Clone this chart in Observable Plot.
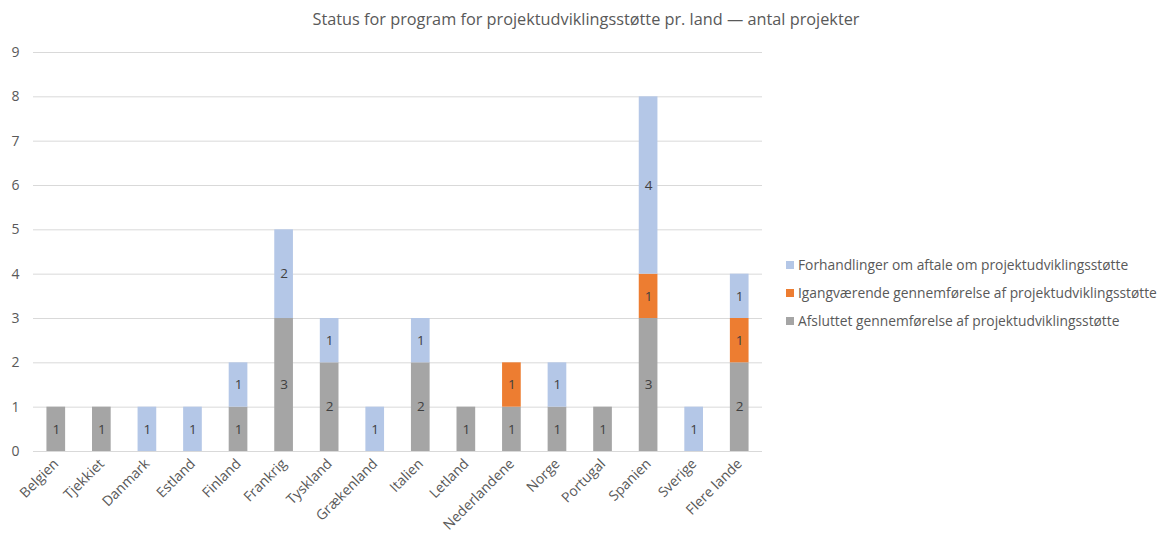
<!DOCTYPE html>
<html>
<head>
<meta charset="utf-8">
<script src="https://cdn.jsdelivr.net/npm/d3@7"></script>
<script src="https://cdn.jsdelivr.net/npm/@observablehq/plot@0.6"></script>
<style>
  html, body { margin: 0; padding: 0; background: #fff; }
  #wrap { position: relative; width: 1158px; height: 533px; font-family: "Open Sans", sans-serif; }
  #title { position: absolute; left: 0; width: 1172px; top: 8px; text-align: center; font-size: 16.3px; color: #595959; }
  #legend { position: absolute; left: 786px; top: 255px; font-size: 13.8px; color: #595959; }
  .item { height: 28px; display: flex; align-items: flex-start; white-space: nowrap; }
  .sw { width: 8px; height: 8px; margin-right: 4px; margin-top: 6px; }
</style>
</head>
<body>
<div id="wrap">
  <div id="chart"></div>
  <div id="title">Status for program for projektudviklingsstøtte pr. land — antal projekter</div>
  <div id="legend"></div>
</div>
<script>
const countries = ["Belgien","Tjekkiet","Danmark","Estland","Finland","Frankrig","Tyskland","Grækenland","Italien","Letland","Nederlandene","Norge","Portugal","Spanien","Sverige","Flere lande"];
const seriesNames = ["Afsluttet gennemførelse af projektudviklingsstøtte","Igangværende gennemførelse af projektudviklingsstøtte","Forhandlinger om aftale om projektudviklingsstøtte"];
const afsluttet     = [1,1,0,0,1,3,2,0,2,1,1,1,1,3,0,2];
const igangvaerende = [0,0,0,0,0,0,0,0,0,0,1,0,0,1,0,1];
const forhandlinger = [0,0,1,1,1,2,1,1,1,0,0,1,0,4,1,1];
const seriesColors = ["#A5A5A5","#ED7D31","#B4C7E7"];
const yTicks = [0,1,2,3,4,5,6,7,8,9];

const seriesValues = [afsluttet, igangvaerende, forhandlinger];
const rows = [];
countries.forEach((c, i) => {
  seriesNames.forEach((s, j) => rows.push({land: c, status: s, value: seriesValues[j][i]}));
});
const labelRows = rows.filter(d => d.value > 0);

const chart = Plot.plot({
  width: 1158,
  height: 533,
  marginLeft: 33,
  marginRight: 396,
  marginTop: 52,
  marginBottom: 82,
  style: {fontFamily: "Open Sans, sans-serif", fontSize: "14px", color: "#595959", background: "#fff"},
  x: {domain: countries, paddingInner: 0.59, paddingOuter: 0.295, round: false, label: null, tickRotate: -45, tickSize: 0, tickPadding: 10},
  y: {domain: [0, 9], ticks: yTicks, label: null, tickSize: 0, tickPadding: 14, tickFormat: d3.format("d")},
  color: {domain: seriesNames, range: seriesColors},
  marks: [
    Plot.gridY(yTicks, {stroke: "#D9D9D9", strokeOpacity: 1, strokeWidth: 1}),
    Plot.barY(rows, Plot.stackY({x: "land", y: "value", fill: "status", order: seriesNames})),
    Plot.text(labelRows, Plot.stackY({x: "land", y: "value", z: "status", order: seriesNames, text: d => String(d.value), fill: "#404040", fontSize: 13.5}))
  ]
});
document.getElementById("chart").appendChild(chart);

const legend = document.getElementById("legend");
[2, 1, 0].forEach(j => {
  const it = document.createElement("div");
  it.className = "item";
  const sw = document.createElement("span");
  sw.className = "sw";
  sw.style.background = seriesColors[j];
  const tx = document.createElement("span");
  tx.textContent = seriesNames[j];
  it.appendChild(sw); it.appendChild(tx);
  legend.appendChild(it);
});
</script>
</body>
</html>
